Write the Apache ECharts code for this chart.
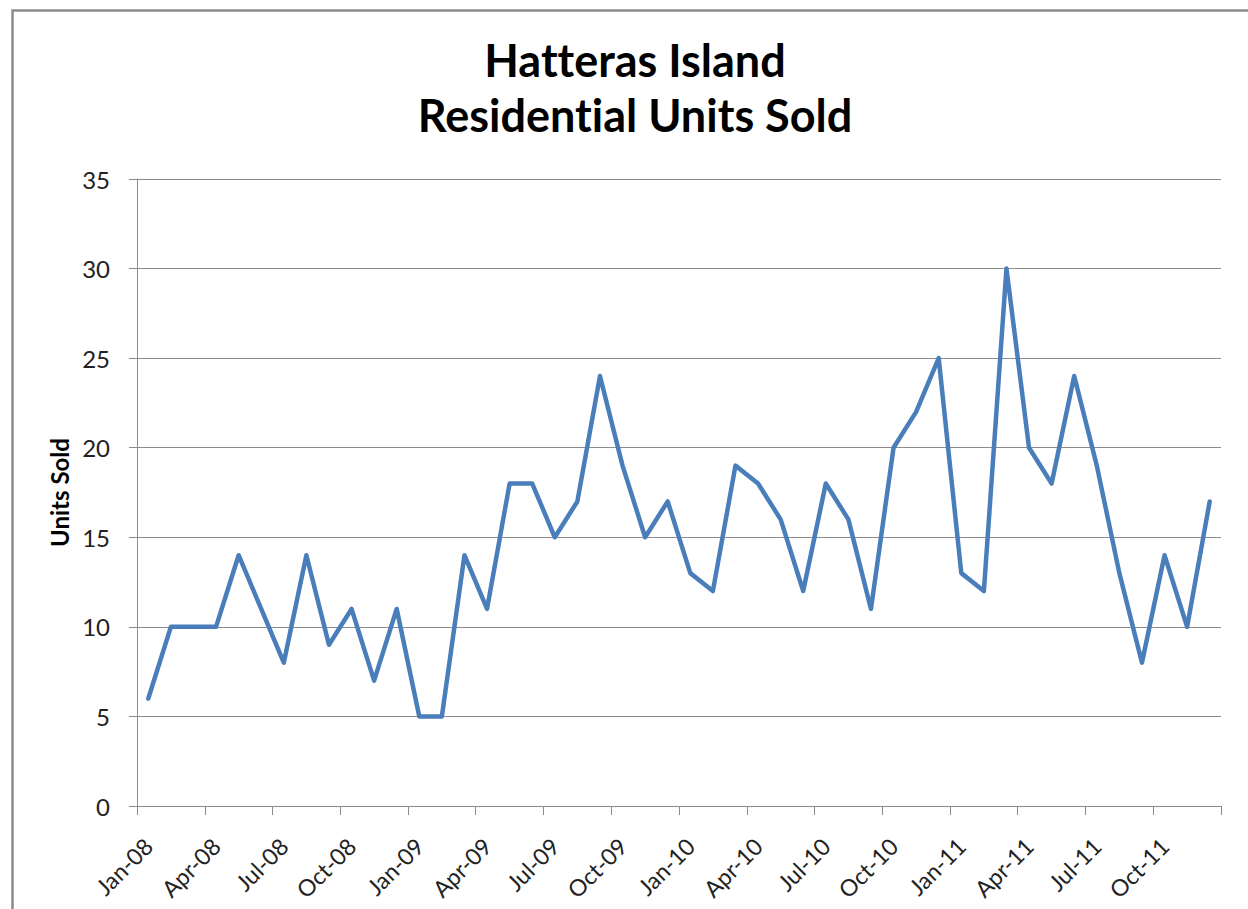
<!DOCTYPE html>
<html>
<head>
<meta charset="utf-8">
<script src="https://cdn.jsdelivr.net/npm/echarts@6/dist/echarts.min.js"></script>
<style>html,body{margin:0;padding:0;background:#fff}#c{width:1248px;height:909px}
svg text{font-variant-ligatures:none;font-feature-settings:"liga" 0,"clig" 0;}</style>
</head>
<body>
<div id="c"></div>
<script>
const titleText = 'Hatteras Island\nResidential Units Sold';
const yAxisName = 'Units Sold';
const months = [
  'Jan-08','Feb-08','Mar-08','Apr-08','May-08','Jun-08','Jul-08','Aug-08','Sep-08','Oct-08','Nov-08','Dec-08',
  'Jan-09','Feb-09','Mar-09','Apr-09','May-09','Jun-09','Jul-09','Aug-09','Sep-09','Oct-09','Nov-09','Dec-09',
  'Jan-10','Feb-10','Mar-10','Apr-10','May-10','Jun-10','Jul-10','Aug-10','Sep-10','Oct-10','Nov-10','Dec-10',
  'Jan-11','Feb-11','Mar-11','Apr-11','May-11','Jun-11','Jul-11','Aug-11','Sep-11','Oct-11','Nov-11','Dec-11'
];
const unitsSold = [
  6,10,10,10,14,11,8,14,9,11,7,11,
  5,5,14,11,18,18,15,17,24,19,15,17,
  13,12,19,18,16,12,18,16,11,20,22,25,
  13,12,30,20,18,24,19,13,8,14,10,17
];
const yMin = 0, yMax = 35, yStep = 5;

const chart = echarts.init(document.getElementById('c'), null, {renderer: 'svg'});
const font = 'Lato, "Open Sans", sans-serif';
chart.setOption({
  animation: false,
  backgroundColor: '#fff',
  graphic: [{
    type: 'rect', left: 10, top: 8, z: -1,
    shape: {x: 0, y: 0, width: 1300, height: 1000},
    style: {fill: 'none', stroke: '#8a8a8a', lineWidth: 2.5}
  }],
  title: {
    text: titleText, left: 630, top: 27, textAlign: 'center',
    textStyle: {fontFamily: font, fontWeight: 'bold', fontSize: 45, lineHeight: 55, color: '#000'}
  },
  grid: {left: 137, right: 27, top: 179, bottom: 103},
  xAxis: {
    type: 'category', data: months, boundaryGap: true,
    axisLine: {lineStyle: {color: '#8c8c8c', width: 1}},
    axisTick: {show: true, interval: 2, length: 9, lineStyle: {color: '#8c8c8c'}},
    axisLabel: {interval: 2, rotate: 45, margin: 36, fontFamily: font, fontSize: 23, color: '#222'}
  },
  yAxis: {
    type: 'value', min: yMin, max: yMax, interval: yStep,
    name: yAxisName, nameLocation: 'middle', nameGap: 63,
    nameTextStyle: {fontFamily: font, fontWeight: 'bold', fontSize: 24, color: '#000'},
    axisLine: {show: true, lineStyle: {color: '#8c8c8c', width: 1}},
    axisTick: {show: true, length: 8, lineStyle: {color: '#8c8c8c'}},
    axisLabel: {margin: 27, fontFamily: font, fontSize: 24, color: '#222'},
    splitLine: {lineStyle: {color: '#8c8c8c', width: 1}}
  },
  series: [{
    type: 'line', data: unitsSold, showSymbol: false, symbol: 'none',
    lineStyle: {color: '#4a7ebb', width: 4.5, join: 'round', cap: 'round'}
  }]
});
</script>
</body>
</html>
